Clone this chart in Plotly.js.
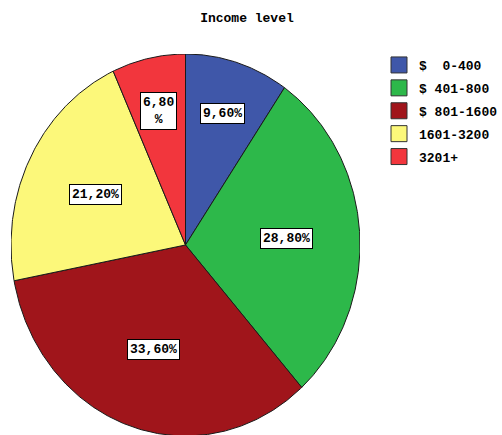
<!DOCTYPE html>
<html><head><meta charset="utf-8">
<script src="https://cdn.plot.ly/plotly-3.0.1.min.js"></script>
<style>html,body{margin:0;padding:0;background:#fff}#chart{width:502px;height:435px}</style>
</head><body><div id="chart"></div>
<script>
const categories = ['$\u00a0\u00a00-400', '$\u00a0401-800', '$\u00a0801-1600', '1601-3200', '3201+'];
const percentages = [9.6, 28.8, 33.6, 21.2, 6.8];
const valueLabels = ['9,60%', '28,80%', '33,60%', '21,20%', '6,80<br>%'];
const colors = ['#3F57A9', '#2DB84A', '#A0151B', '#FCF87A', '#F2363D'];

const FONT = 'Liberation Mono, DejaVu Sans Mono, monospace';
const total = percentages.reduce((a, b) => a + b, 0);
const traces = [];
const annotations = [];
let cum = 0;
percentages.forEach((p, i) => {
  const a0 = cum / total * 2 * Math.PI; cum += p; const a1 = cum / total * 2 * Math.PI;
  const xs = [0], ys = [0];
  const n = Math.max(2, Math.ceil((a1 - a0) / (Math.PI / 360)));
  for (let k = 0; k <= n; k++) { const a = a0 + (a1 - a0) * k / n; xs.push(Math.sin(a)); ys.push(Math.cos(a)); }
  xs.push(0); ys.push(0);
  traces.push({type: 'scatter', mode: 'lines', x: xs, y: ys, fill: 'toself', fillcolor: colors[i],
    line: {color: '#1a1a1a', width: 1}, showlegend: false, hoverinfo: 'skip'});
  const am = (a0 + a1) / 2; const r = p < 10 ? 0.72 : 0.58;
  annotations.push({x: r * Math.sin(am), y: r * Math.cos(am), xref: 'x', yref: 'y', text: valueLabels[i],
    showarrow: false, bgcolor: '#fff', bordercolor: '#000', borderwidth: 1, borderpad: 2,
    font: {family: FONT, size: 13, color: '#000', weight: 'bold'}});
});
categories.forEach((c, i) => traces.push({type: 'scatter', mode: 'markers', x: [null], y: [null], name: c,
  legendgroup: 'g' + i, hoverinfo: 'skip',
  marker: {symbol: 'square', size: 16, color: colors[i], line: {color: '#333', width: 1}}}));

const layout = {
  width: 502, height: 435, margin: {l: 0, r: 0, t: 0, b: 0, autoexpand: false},
  paper_bgcolor: '#fff', plot_bgcolor: '#fff',
  title: {text: 'Income level', x: 0.492, xanchor: 'center', y: 0.959, yanchor: 'middle', xref: 'paper',
    font: {family: FONT, size: 13, weight: 'bold', color: '#000'}},
  xaxis: {range: [-1, 1], domain: [11 / 502, 360 / 502], visible: false, fixedrange: true},
  yaxis: {range: [-0.995, 1], domain: [0, 1 - 54 / 435], visible: false, fixedrange: true},
  showlegend: true,
  legend: {x: 379 / 502, xanchor: 'left', y: 1 - 50 / 435, yanchor: 'top', tracegroupgap: 3,
    bgcolor: 'rgba(0,0,0,0)', font: {family: FONT, size: 13, weight: 'bold', color: '#000'}},
  annotations: annotations
};
Plotly.newPlot('chart', traces, layout, {displayModeBar: false, staticPlot: true});
</script></body></html>
